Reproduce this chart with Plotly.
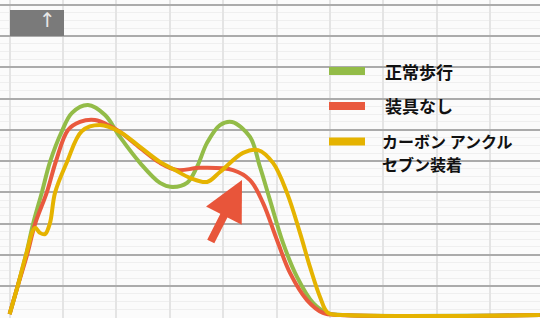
import plotly.graph_objects as go

# ---- data (x: gait phase grid units, y: force grid units) ----
normal_x = [0, 0.157, 0.307, 0.438, 0.607, 0.757, 0.981, 1.169, 1.468, 1.787, 2.067, 2.442, 2.816, 3.041,
            3.322, 3.509, 3.697, 3.940, 4.165, 4.502, 4.689, 4.876, 5.120, 5.382, 5.682, 5.944, 6.28, 9.93]
normal_y = [0.1, 1.03, 1.99, 2.98, 4.01, 4.97, 5.96, 6.54, 6.79, 6.47, 5.77, 4.94, 4.30, 4.17,
            4.30, 4.81, 5.58, 6.15, 6.25, 5.77, 4.81, 3.75, 2.38, 1.29, 0.46, 0.14, 0.07, 0.07]

nobrace_x = [0, 0.157, 0.326, 0.476, 0.700, 0.869, 1.094, 1.318, 1.599, 1.880, 2.067, 2.442, 2.816, 3.135,
             3.566, 4.184, 4.502, 4.745, 5.007, 5.251, 5.569, 5.869, 6.19, 9.93]
nobrace_y = [0.1, 1.03, 1.99, 2.98, 4.01, 5.0, 5.99, 6.25, 6.31, 6.12, 5.93, 5.42, 4.94, 4.71,
             4.78, 4.71, 4.39, 3.66, 2.47, 1.42, 0.55, 0.14, 0.07, 0.07]

carbon_x = [0, 0.157, 0.307, 0.476, 0.569, 0.663, 0.757, 0.850, 1.075, 1.356, 1.693, 2.067, 2.442, 2.816,
            3.097, 3.378, 3.697, 3.940, 4.371, 4.652, 4.933, 5.195, 5.438, 5.625, 5.813, 5.963, 6.28, 9.93]
carbon_y = [0.1, 1.03, 1.99, 2.86, 2.70, 2.66, 3.02, 3.98, 4.97, 5.96, 6.15, 5.93, 5.45, 4.97,
            4.71, 4.46, 4.33, 4.65, 5.26, 5.35, 4.94, 3.98, 2.70, 1.61, 0.65, 0.14, 0.07, 0.07]

series_names = ["正常歩行", "装具なし", "カーボン アンクル<br>セブン装着"]
series_colors = ["#93BC48", "#E9593E", "#E5B300"]

fig = go.Figure()
for (xs, ys, name, col) in [(normal_x, normal_y, series_names[0], series_colors[0]),
                            (nobrace_x, nobrace_y, series_names[1], series_colors[1]),
                            (carbon_x, carbon_y, series_names[2], series_colors[2])]:
    fig.add_trace(go.Scatter(x=xs, y=ys, mode="lines", name=name,
                             line=dict(color=col, width=4, shape="spline", smoothing=1.0),
                             showlegend=False, hoverinfo="skip"))

W, H = 540, 318
shapes = []
annotations = []

# gray box top-left
shapes.append(dict(type="rect", xref="paper", yref="paper", x0=10 / W, x1=64 / W,
                   y0=1 - 36 / H, y1=1 - 10 / H, fillcolor="#7a7a7a", line=dict(width=0), layer="above"))
annotations.append(dict(xref="paper", yref="paper", x=37 / W, y=1 - 20 / H, text="↑",
                        showarrow=False, yanchor="middle",
                        font=dict(size=20, color="#e8e8e8", family="DejaVu Sans")))

# legend (manual)
leg_rows = [71, 106, 141.5]
for i, ry in enumerate(leg_rows):
    shapes.append(dict(type="rect", xref="paper", yref="paper", x0=329 / W, x1=365 / W,
                       y0=1 - (ry + 4) / H, y1=1 - (ry - 4) / H,
                       fillcolor=series_colors[i], line=dict(width=0), layer="above"))
legend_pos = [[(384, 71, 17)], [(384, 106, 17)], [(381, 140.5, 16), (381, 164, 16)]]
for name, positions in zip(series_names, legend_pos):
    for part, (tx, ty, fs) in zip(name.split("<br>"), positions):
        annotations.append(dict(xref="paper", yref="paper", x=tx / W, y=1 - ty / H, text="<b>%s</b>" % part,
                                showarrow=False, xanchor="left", yanchor="middle", align="left",
                                borderpad=0,
                                font=dict(size=fs, color="#111111", family="Noto Sans CJK JP")))

# red arrow
annotations.append(dict(x=4.352, y=4.392, xref="x", yref="y", text="", showarrow=True,
                        ax=-32, ay=63, arrowhead=2, arrowsize=1.0, arrowwidth=8,
                        arrowcolor="#E8553A", standoff=0))

fig.update_layout(
    width=W, height=H,
    margin=dict(l=0, r=0, t=0, b=0),
    paper_bgcolor="white",
    plot_bgcolor="#fbfbfb",
    shapes=shapes,
    annotations=annotations,
    xaxis=dict(range=[-9.6 / 53.4, (540 - 9.6) / 53.4], dtick=1, tick0=0, showgrid=True,
               gridcolor="#e4e4e4", gridwidth=2, zeroline=False, showticklabels=False, ticks="",
               fixedrange=True),
    yaxis=dict(range=[-0.024, 317.25 / 31.25], dtick=1, tick0=0, showgrid=True,
               gridcolor="#ababab", gridwidth=2, zeroline=False, showticklabels=False, ticks="",
               minor=dict(dtick=0.25, showgrid=True, gridcolor="#efefef", gridwidth=1),
               fixedrange=True),
)

fig.write_html("out.html", config={"displayModeBar": False},
               post_script="document.body.style.margin='0';document.body.style.overflow='hidden';")
